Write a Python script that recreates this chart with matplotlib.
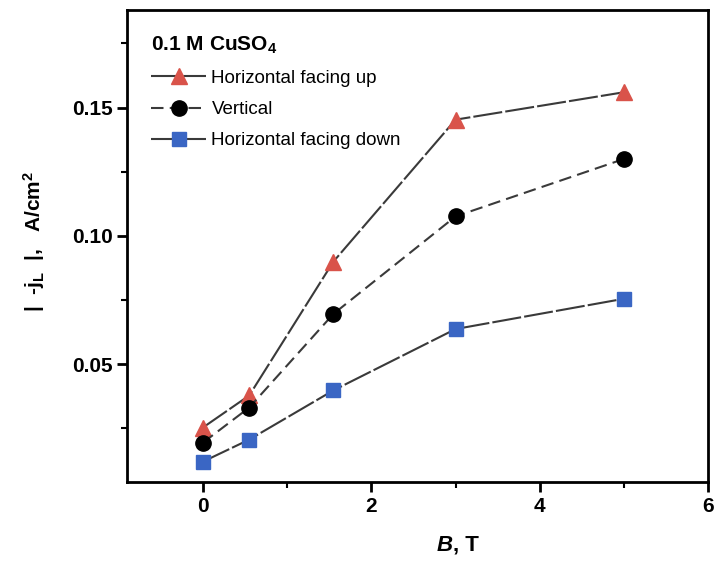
import matplotlib.pyplot as plt
import numpy as np
from matplotlib.ticker import MultipleLocator

plt.rcParams['font.family'] = ['Liberation Sans', 'DejaVu Sans']
plt.rcParams['mathtext.fontset'] = 'custom'
plt.rcParams['mathtext.rm'] = 'Liberation Sans:bold'
plt.rcParams['mathtext.bf'] = 'Liberation Sans:bold'
plt.rcParams['mathtext.it'] = 'Liberation Sans:bold:italic'

# magnetic field, T
B = [0, 0.55, 1.55, 3.0, 5.0]
# limiting current density |-jL|, A/cm2
up = [0.0253, 0.0378, 0.090, 0.1453, 0.156]
vertical = [0.0194, 0.0331, 0.0696, 0.1076, 0.130]
down = [0.012, 0.0206, 0.0398, 0.0637, 0.0755]

fig = plt.figure(figsize=(7.14, 5.62), dpi=100)
ax = fig.add_axes([0.178, 0.142, 0.814, 0.840])

ax.plot(B, up, color="#3a3a3a", lw=1.5, marker="^", ms=11, mfc="#d9534a", mec="#d9534a",
        label="Horizontal facing up", dashes=(14, 1.5))
ax.plot(B, vertical, color="#3a3a3a", lw=1.5, marker="o", ms=11, mfc="black", mec="black",
        label="Vertical", dashes=(6, 3))
ax.plot(B, down, color="#3a3a3a", lw=1.5, marker="s", ms=10, mfc="#3a66c4", mec="#3a66c4",
        label="Horizontal facing down", dashes=(14, 1.5))

ax.set_xlim(-0.9, 6)
ax.set_ylim(0.004, 0.188)
ax.xaxis.set_major_locator(MultipleLocator(2))
ax.xaxis.set_minor_locator(MultipleLocator(1))
ax.yaxis.set_minor_locator(MultipleLocator(0.025))
ax.set_yticks([0.05, 0.10, 0.15])
ax.set_yticklabels(["0.05", "0.10", "0.15"])

for s in ax.spines.values():
    s.set_linewidth(2)
ax.tick_params(which="major", direction="out", length=7, width=2, labelsize=15)
ax.tick_params(which="minor", direction="out", length=4, width=1.5)
for lab in ax.get_xticklabels() + ax.get_yticklabels():
    lab.set_fontweight("bold")

# x label: bold italic B, bold T
fig.text(0.635, 0.02, r"$\mathit{B}$", fontsize=16, ha="right")
fig.text(0.635, 0.02, ", T", fontsize=16, fontweight="bold", ha="left")

ax.set_ylabel(r"|  -j$_\mathrm{L}$  |,   A/cm$^\mathrm{2}$", fontsize=15, fontweight="bold")
ax.yaxis.set_label_coords(-0.138, 0.51)

leg = ax.legend(loc="upper left", frameon=False, fontsize=13.5, handlelength=2.9,
                handletextpad=0.3, labelspacing=0.75, borderaxespad=0.9,
                title=r"0.1 M CuSO$_4$", title_fontproperties={"weight": "bold", "size": 15})
leg._legend_box.align = "left"

fig.savefig("out.png", dpi=100)
